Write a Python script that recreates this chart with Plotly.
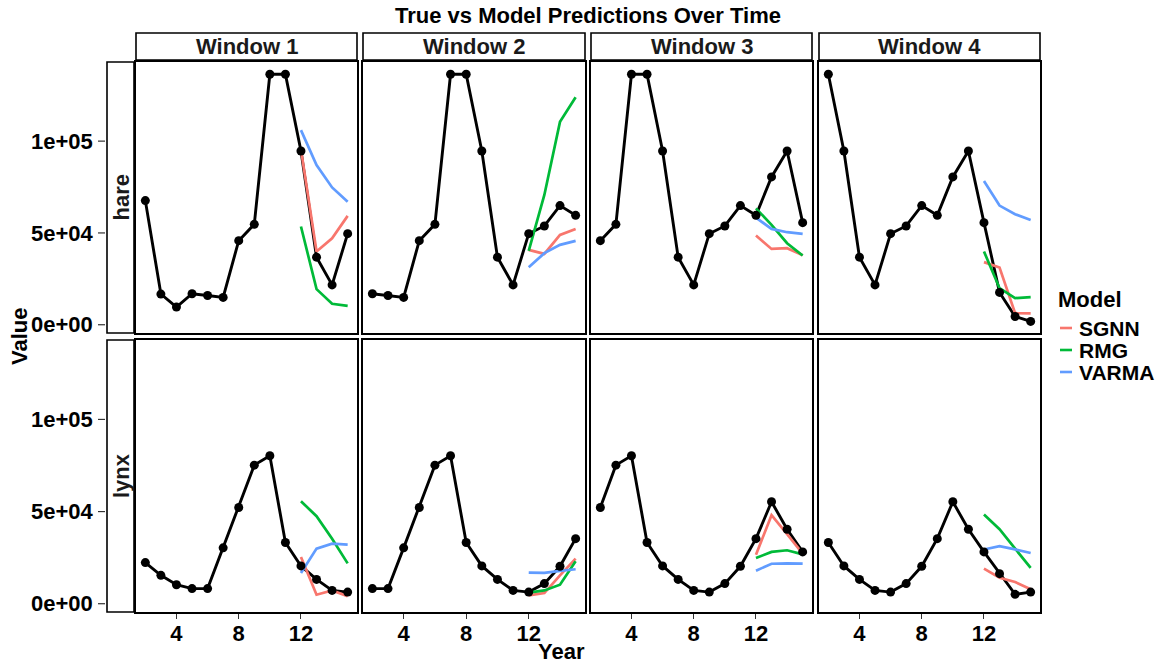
import plotly.graph_objects as go

W, H = 1162, 663

# ---------------- data ----------------
windows = ["Window 1", "Window 2", "Window 3", "Window 4"]
species = ["hare", "lynx"]
models = ["SGNN", "RMG", "VARMA"]
model_colors = {"SGNN": "#F8766D", "RMG": "#00BA38", "VARMA": "#619CFF"}

true_years = list(range(2, 16))
pred_years = [12, 13, 14, 15]
window_offsets = [0, 3, 6, 9]

# underlying true series (each window shows 14 consecutive values)
hare_true = [67600, 16700, 9600, 16900, 15900, 14900, 45800, 54700, 136400, 136400,
             94600, 36800, 21700, 49600, 53800, 64900, 59600, 80500, 94600, 55600,
             17600, 4500, 1800]
lynx_true = [22300, 15400, 10300, 8200, 8200, 30300, 52200, 75200, 80300, 33200,
             20500, 13200, 7200, 6300, 10900, 20300, 35300, 55300, 40400, 28100,
             16300, 5100, 6300]

# predictions per window (years 12-15)
sgnn_hare = [[95500, 39900, 47100, 59300], [40800, 38600, 48900, 52200],
             [48600, 41300, 41700, 37900], [34100, 31200, 6300, 6200]]
rmg_hare = [[53500, 19400, 11400, 10300], [40200, 70700, 110500, 123900],
            [63400, 54400, 44400, 37700], [39900, 19900, 14500, 15000]]
varma_hare = [[106000, 87000, 74800, 67000], [31300, 39000, 43500, 45700],
              [58300, 52200, 50400, 49500], [78300, 64900, 60200, 57100]]

sgnn_lynx = [[25400, 4900, 7200, 4000], [4500, 5800, 15400, 24500],
             [26600, 48000, 37700, 27200], [19000, 14100, 11800, 7800]]
rmg_lynx = [[55600, 47500, 35300, 21900], [6000, 7200, 10300, 23000],
            [24800, 28100, 29000, 26800], [48400, 40400, 29900, 19400]]
varma_lynx = [[16700, 29900, 32600, 32100], [16900, 16700, 17800, 18700],
              [17900, 21700, 21900, 21700], [29400, 31200, 29500, 27500]]

y_tickvals = [0, 50000, 100000]
y_ticktext = ["0e+00", "5e+04", "1e+05"]
x_tickvals = [4, 8, 12]

true_data = {"hare": hare_true, "lynx": lynx_true}
pred_data = {
    "hare": {"SGNN": sgnn_hare, "RMG": rmg_hare, "VARMA": varma_hare},
    "lynx": {"SGNN": sgnn_lynx, "RMG": rmg_lynx, "VARMA": varma_lynx},
}

# ---------------- layout geometry (pixels) ----------------
col_px = [(136, 357), (363, 585), (591, 812), (819, 1040)]
row_px = [(62, 333), (340, 612)]
x_range = [1.4, 15.6]
y_range = [-4500, 143100]
FONT = "Liberation Sans"
FS = 22


def px_x(p):
    return p / W


def px_y(p):
    return 1 - p / H


def bold(size=FS, color="black"):
    return dict(family=FONT, size=size, color=color, weight="bold")


fig = go.Figure()

for r, sp in enumerate(species):
    for c in range(4):
        idx = r * 4 + c + 1
        xa = "x" if idx == 1 else f"x{idx}"
        ya = "y" if idx == 1 else f"y{idx}"
        off = window_offsets[c]
        tv = true_data[sp][off:off + len(true_years)]
        # true line
        fig.add_trace(go.Scatter(x=true_years, y=tv, mode="lines",
                                 line=dict(color="black", width=2.9),
                                 xaxis=xa, yaxis=ya, showlegend=False,
                                 name="True", hoverinfo="skip"))
        for m in models:
            fig.add_trace(go.Scatter(x=pred_years, y=pred_data[sp][m][c], mode="lines",
                                     line=dict(color=model_colors[m], width=2.7),
                                     name=m, legendgroup=m, showlegend=False,
                                     xaxis=xa, yaxis=ya))
        fig.add_trace(go.Scatter(x=true_years, y=tv, mode="markers",
                                 marker=dict(color="black", size=9),
                                 xaxis=xa, yaxis=ya, showlegend=False,
                                 name="True", hoverinfo="skip"))

        x0, x1 = col_px[c]
        y0, y1 = row_px[r]
        xkey = "xaxis" if idx == 1 else f"xaxis{idx}"
        ykey = "yaxis" if idx == 1 else f"yaxis{idx}"
        fig.layout[xkey] = dict(
            domain=[px_x(x0), px_x(x1)], range=x_range, anchor=ya,
            showline=True, mirror=True, linecolor="black", linewidth=1.6,
            showgrid=False, zeroline=False, automargin=False,
            tickvals=x_tickvals,
            ticks="outside" if r == 1 else "", ticklen=5, tickwidth=1.2,
            tickcolor="#333333", ticklabelstandoff=-4,
            showticklabels=(r == 1),
            tickfont=bold(),
        )
        fig.layout[ykey] = dict(
            domain=[px_y(y1), px_y(y0)], range=y_range, anchor=xa,
            showline=True, mirror=True, linecolor="black", linewidth=1.6,
            showgrid=False, zeroline=False, automargin=False,
            tickvals=y_tickvals, ticktext=y_ticktext, ticks="",
            showticklabels=(c == 0), ticklabelstandoff=37,
            tickfont=bold(),
        )

shapes = []
annotations = []

# y tick marks (left of row strips)
for r in range(2):
    yref = "y" if r == 0 else "y5"
    for v in y_tickvals:
        shapes.append(dict(type="line", xref="paper", yref=yref,
                           x0=px_x(98), x1=px_x(105), y0=v, y1=v,
                           line=dict(color="#333333", width=1.2)))

# column strips
for c, name in enumerate(windows):
    x0, x1 = col_px[c]
    shapes.append(dict(type="rect", xref="paper", yref="paper",
                       x0=px_x(x0), x1=px_x(x1), y0=px_y(60), y1=px_y(33),
                       line=dict(color="black", width=1.6), fillcolor="white"))
    annotations.append(dict(text=name, xref="paper", yref="paper",
                            x=px_x((x0 + x1) / 2), y=px_y(46.5), showarrow=False,
                            xanchor="center", yanchor="middle",
                            font=bold(color="#1a1a1a")))

# row strips (left side)
for r, name in enumerate(species):
    y0, y1 = row_px[r]
    shapes.append(dict(type="rect", xref="paper", yref="paper",
                       x0=px_x(107), x1=px_x(134), y0=px_y(y1), y1=px_y(y0),
                       line=dict(color="black", width=1.6), fillcolor="white"))
    annotations.append(dict(text=name, xref="paper", yref="paper",
                            x=px_x(121), y=px_y((y0 + y1) / 2), showarrow=False,
                            textangle=-90, xanchor="center", yanchor="middle",
                            font=bold(color="#1a1a1a")))

# titles
annotations.append(dict(text="True vs Model Predictions Over Time", xref="paper", yref="paper",
                        x=px_x(588), y=px_y(15), showarrow=False,
                        xanchor="center", yanchor="middle", font=bold()))
annotations.append(dict(text="Value", xref="paper", yref="paper",
                        x=px_x(19), y=px_y(337), showarrow=False, textangle=-90,
                        xanchor="center", yanchor="middle", font=bold()))
annotations.append(dict(text="Year", xref="paper", yref="paper",
                        x=px_x(561), y=px_y(651), showarrow=False,
                        xanchor="center", yanchor="middle", font=bold()))

# legend (drawn as keys + labels)
annotations.append(dict(text="Model", xref="paper", yref="paper",
                        x=px_x(1056), y=px_y(300), showarrow=False,
                        xanchor="left", yanchor="middle", font=bold()))
legend_rows_px = [328, 350, 372]
for m, ly in zip(models, legend_rows_px):
    shapes.append(dict(type="line", xref="paper", yref="paper",
                       x0=px_x(1060), x1=px_x(1072), y0=px_y(ly), y1=px_y(ly),
                       line=dict(color=model_colors[m], width=2.6)))
    annotations.append(dict(text=m, xref="paper", yref="paper",
                            x=px_x(1077), y=px_y(ly), showarrow=False,
                            xanchor="left", yanchor="middle", font=bold(21)))

fig.update_layout(
    width=W, height=H,
    margin=dict(l=0, r=0, t=0, b=0, pad=0, autoexpand=False),
    paper_bgcolor="white", plot_bgcolor="white",
    shapes=shapes, annotations=annotations,
    showlegend=False,
)

fig.write_html(
    "out.html",
    config={"displayModeBar": False},
    post_script="document.body.style.margin='0';document.body.style.padding='0';"
                "document.documentElement.style.overflow='hidden';",
)
